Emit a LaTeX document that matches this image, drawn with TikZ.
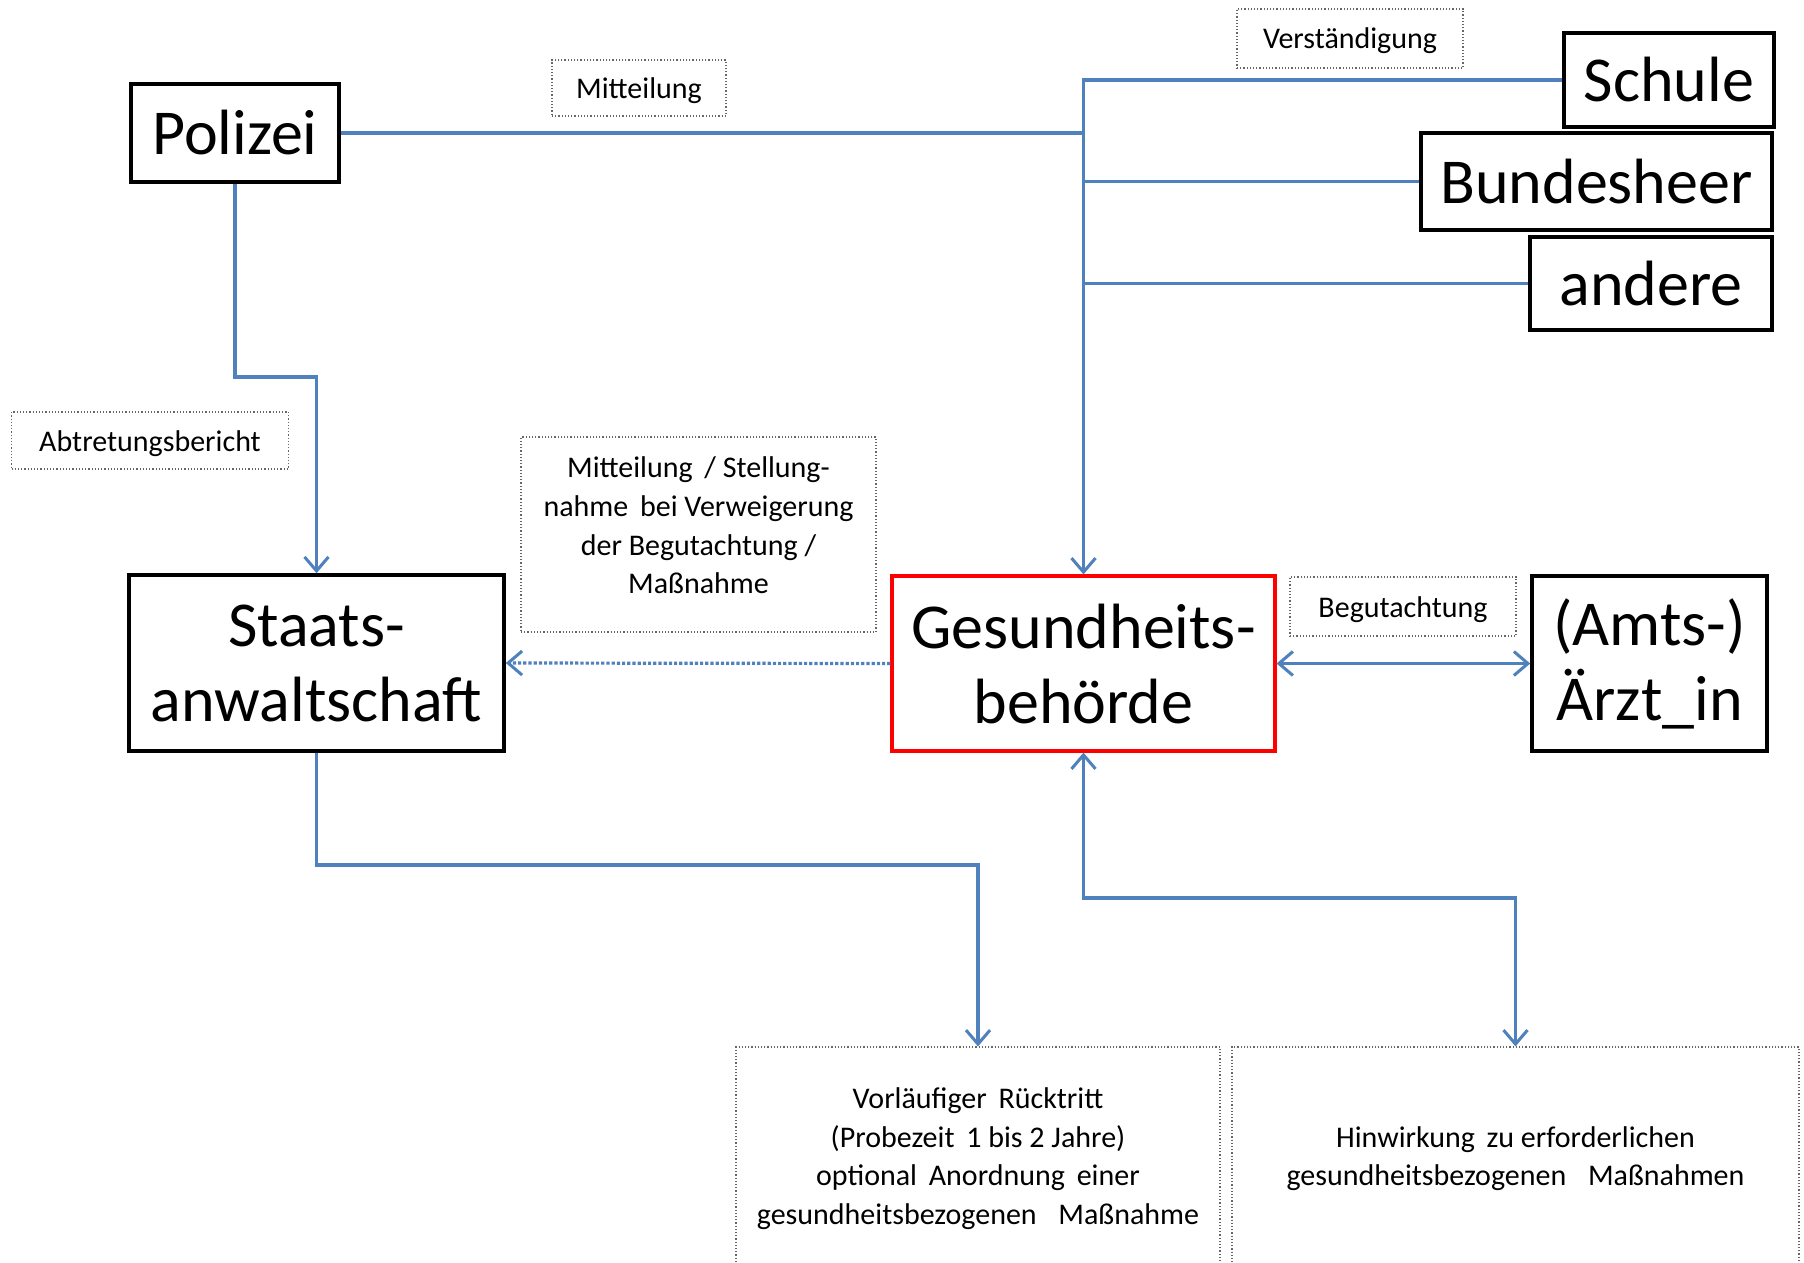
\documentclass[tikz,border=0pt]{standalone}
\usepackage{fontspec}
\setmainfont{Carlito}
\usetikzlibrary{arrows.meta}
\definecolor{flowblue}{HTML}{4F81BD}
\tikzset{
  bigbox/.style={draw=black, line width=1.8pt, fill=white, inner sep=0pt,
    align=center, font=\fontsize{32}{37.5}\selectfont},
  redbox/.style={bigbox, draw=red, line width=1.6pt},
  notebox/.style={draw=black!60, densely dotted, line width=0.6pt, inner sep=0pt,
    align=center, font=\fontsize{15}{19.3}\selectfont},
  tagbox/.style={notebox, text height=13.5pt, text depth=3pt},
  notetext/.style={inner sep=0pt, align=center, font=\fontsize{15}{19.3}\selectfont},
  flow/.style={draw=flowblue, line width=1.6pt},
  barb/.tip={Straight Barb[length=7pt,width=12pt,line width=1.5pt]},
  tipend/.style={-barb},
  tipboth/.style={barb-barb}
}
\begin{document}
\begin{tikzpicture}[x=0.5pt,y=-0.5pt]
  \useasboundingbox (0,0) rectangle (1804,1263);
  \fill[white] (0,0) rectangle (1804,1263);
  \clip (0,0) rectangle (1804,1263);

  % main boxes
  \node[bigbox, minimum width=104pt, minimum height=49pt] (pol) at (235,133) {Polizei};
  \node[bigbox, minimum width=105pt, minimum height=47pt] (schule) at (1669,80) {Schule};
  \node[bigbox, minimum width=175.5pt, minimum height=48.5pt] (heer) at (1596.5,181.5) {Bundesheer};
  \node[bigbox, minimum width=121pt, minimum height=46.5pt] (andere) at (1651,283.5) {andere};
  \node[bigbox, minimum width=187.5pt, minimum height=88pt] (sta) at (316.5,663) {Staats-\\anwaltschaft};
  \node[redbox, minimum width=191.5pt, minimum height=87.5pt] (ges) at (1083.5,663.5) {Gesundheits-\\behörde};
  \node[bigbox, minimum width=117.5pt, minimum height=87.5pt] (arzt) at (1649.5,663.5) {(Amts-)\\Ärzt\_in};

  % labels
  \node[tagbox, minimum width=87pt, minimum height=28pt] (lmit) at (639,88) {Mitteilung};
  \node[tagbox, minimum width=113pt, minimum height=29.5pt] (lver) at (1350,38.5) {Verständigung};
  \node[tagbox, minimum width=138.5pt, minimum height=28.5pt] (labt) at (150,440.5) {Abtretungsbericht};
  \node[notebox, minimum width=177.5pt, minimum height=97.5pt] (lstell) at (698.5,534.5) {};
  \node[notetext] (lstelltext) at (698.5,525.5) {Mitteilung\, / Stellung-\\nahme\, bei Verweigerung\\der Begutachtung /\\Maßnahme};
  \node[tagbox, minimum width=113pt, minimum height=29.5pt] (lbeg) at (1403,606.5) {Begutachtung};

  % outcome boxes
  \node[notebox, minimum width=242pt, minimum height=111.5pt] (out1) at (978,1158.5)
    {Vorläufiger\, Rücktritt\\(Probezeit\, 1 bis 2 Jahre)\\optional\, Anordnung\, einer\\gesundheitsbezogenen\enspace\ Maßnahme};
  \node[notebox, minimum width=283.5pt, minimum height=111.5pt] (out2) at (1515.5,1158.5)
    {Hinwirkung\, zu erforderlichen\\gesundheitsbezogenen\enspace\ Maßnahmen};

  % bend levels
  \coordinate (pk) at (0,377);
  \coordinate (sk) at (0,865);
  \coordinate (gk) at (0,898);

  % connectors
  \draw[flow, tipend] (schule.west) -- (ges.north |- schule.west) -- (ges.north);
  \draw[flow] (pol.east) -- (ges.north |- pol.east);
  \draw[flow] (heer.west) -- (ges.north |- heer.west);
  \draw[flow] (andere.west) -- (ges.north |- andere.west);
  \draw[flow, tipend] (pol.south) -- (pol.south |- pk) -- (sta.north |- pk) -- (sta.north);
  \draw[flow, tipend, densely dotted] (ges.west) -- (sta.east);
  \draw[flow, tipboth] (ges.east) -- (arzt.west);
  \draw[flow, tipend] (sta.south) -- (sta.south |- sk) -- (out1.north |- sk) -- (out1.north);
  \draw[flow, tipboth] (ges.south) -- (ges.south |- gk) -- (out2.north |- gk) -- (out2.north);
\end{tikzpicture}
\end{document}
